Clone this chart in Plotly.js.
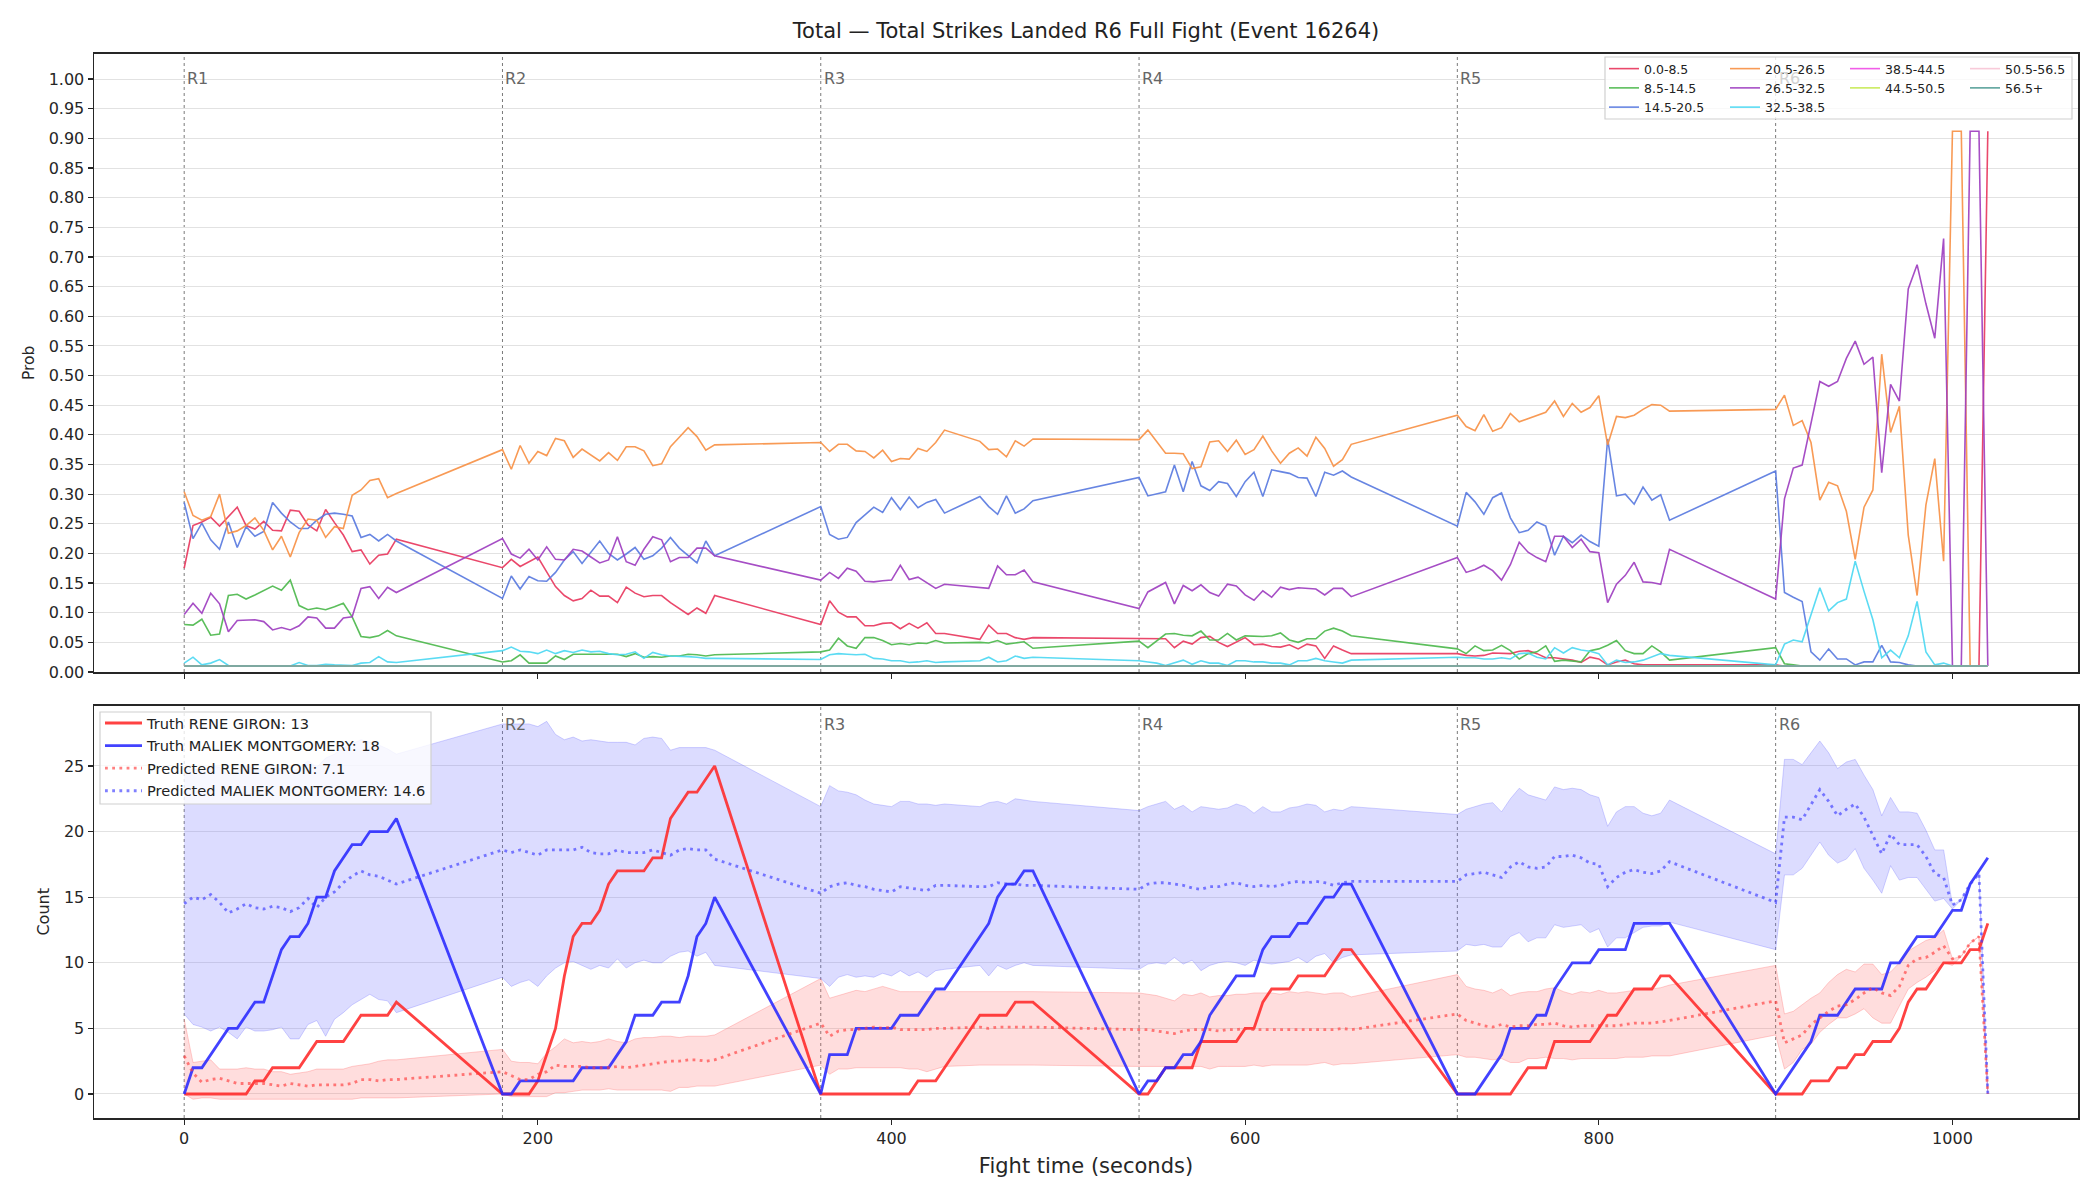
<!DOCTYPE html>
<html><head><meta charset="utf-8">
<script src="https://cdn.plot.ly/plotly-3.0.1.min.js"></script>
<style>html,body{margin:0;padding:0;background:#fff}#chart{width:2100px;height:1200px}</style>
</head><body><div id="chart"></div>
<script>
// ---------- data ----------
const TITLE = 'Total \u2014 Total Strikes Landed R6 Full Fight (Event 16264)';
const TIME = [0,5,10,15,20,25,30,35,40,45,50,55,60,65,70,75,80,85,90,95,100,105,110,115,120,
180,185,190,195,200,205,210,215,220,225,230,235,240,245,250,255,260,265,270,275,280,285,290,295,300,
360,365,370,375,380,385,390,395,400,405,410,415,420,425,430,450,455,460,465,470,475,480,
540,545,550,555,560,565,570,575,580,585,590,595,600,605,610,615,620,625,630,635,640,645,650,655,660,
720,725,730,735,740,745,750,755,760,765,770,775,780,785,790,795,800,805,810,815,820,825,830,835,840,
900,905,910,915,920,925,930,935,940,945,950,955,960,965,970,975,980,985,990,995,1000,1005,1010,1015,1020];

const BIN_LABELS = ['0.0-8.5','8.5-14.5','14.5-20.5','20.5-26.5','26.5-32.5','32.5-38.5','38.5-44.5','44.5-50.5','50.5-56.5','56.5+'];

const P_0_8 = [0.175,0.247,0.253,0.261,0.246,0.262,0.278,0.247,0.241,0.254,0.239,0.238,0.273,0.271,0.248,0.238,0.274,0.252,0.231,0.203,0.206,0.182,0.197,0.199,0.224,
0.176,0.190,0.178,0.186,0.194,0.169,0.144,0.129,0.120,0.124,0.138,0.128,0.128,0.117,0.143,0.133,0.127,0.129,0.129,0.117,0.107,0.097,0.108,0.099,0.129,
0.080,0.120,0.101,0.093,0.093,0.078,0.078,0.082,0.083,0.073,0.082,0.074,0.083,0.065,0.065,0.055,0.079,0.065,0.065,0.058,0.055,0.058,
0.057,0.056,0.056,0.056,0.041,0.052,0.047,0.058,0.060,0.050,0.043,0.050,0.058,0.046,0.047,0.043,0.042,0.046,0.039,0.047,0.044,0.023,0.044,0.037,0.031,
0.031,0.028,0.027,0.028,0.032,0.031,0.031,0.035,0.036,0.031,0.024,0.024,0.022,0.020,0.016,0.025,0.022,0.012,0.017,0.020,0.014,0.012,0.012,0.012,0.012,
0.012,0.010,0.010,0.010,0.010,0.010,0.010,0.010,0.010,0.010,0.010,0.010,0.010,0.010,0.010,0.010,0.010,0.010,0.010,0.010,0.010,0.010,0.010,0.010,0.912];

const P_8_14 = [0.080,0.079,0.089,0.062,0.064,0.129,0.131,0.123,0.130,0.137,0.145,0.138,0.155,0.112,0.105,0.108,0.105,0.110,0.116,0.093,0.060,0.058,0.061,0.070,0.061,
0.017,0.019,0.029,0.015,0.015,0.015,0.027,0.021,0.030,0.030,0.030,0.031,0.030,0.030,0.026,0.031,0.025,0.026,0.025,0.027,0.027,0.030,0.029,0.027,0.029,
0.034,0.037,0.057,0.044,0.040,0.058,0.058,0.053,0.046,0.048,0.046,0.049,0.048,0.053,0.049,0.050,0.049,0.053,0.047,0.049,0.051,0.040,
0.052,0.041,0.053,0.064,0.065,0.062,0.061,0.069,0.054,0.054,0.065,0.054,0.061,0.060,0.060,0.061,0.066,0.054,0.050,0.056,0.056,0.069,0.074,0.069,0.061,
0.039,0.031,0.044,0.036,0.037,0.045,0.036,0.022,0.031,0.034,0.044,0.018,0.020,0.018,0.017,0.036,0.039,0.045,0.053,0.036,0.031,0.031,0.044,0.034,0.020,
0.041,0.014,0.012,0.010,0.010,0.010,0.010,0.010,0.010,0.010,0.010,0.010,0.010,0.010,0.010,0.010,0.010,0.010,0.010,0.010,0.010,0.010,0.010,0.010,0.010];

const P_14_20 = [0.286,0.225,0.251,0.223,0.207,0.253,0.210,0.245,0.229,0.237,0.286,0.268,0.253,0.242,0.242,0.256,0.266,0.268,0.266,0.263,0.227,0.232,0.221,0.232,0.221,
0.124,0.162,0.140,0.161,0.154,0.153,0.168,0.189,0.203,0.183,0.203,0.221,0.200,0.189,0.199,0.210,0.190,0.196,0.209,0.227,0.209,0.196,0.184,0.221,0.196,
0.279,0.232,0.224,0.227,0.252,0.265,0.278,0.269,0.294,0.274,0.295,0.277,0.286,0.291,0.268,0.296,0.279,0.266,0.297,0.268,0.275,0.289,
0.328,0.297,0.301,0.304,0.349,0.304,0.355,0.314,0.306,0.321,0.318,0.296,0.321,0.337,0.296,0.341,0.338,0.335,0.328,0.327,0.296,0.337,0.332,0.339,0.329,
0.246,0.303,0.287,0.266,0.294,0.302,0.260,0.235,0.239,0.253,0.246,0.197,0.229,0.218,0.231,0.220,0.212,0.393,0.297,0.300,0.283,0.312,0.290,0.299,0.256,
0.339,0.134,0.126,0.119,0.034,0.020,0.039,0.022,0.022,0.012,0.017,0.017,0.045,0.017,0.016,0.012,0.010,0.010,0.010,0.010,0.010,0.010,0.010,0.010,0.010];

const P_20_26 = [0.304,0.264,0.256,0.262,0.300,0.234,0.238,0.247,0.260,0.239,0.206,0.229,0.194,0.235,0.258,0.256,0.227,0.245,0.242,0.298,0.307,0.323,0.326,0.294,0.301,
0.375,0.342,0.382,0.352,0.372,0.365,0.394,0.390,0.362,0.376,0.366,0.356,0.370,0.357,0.380,0.380,0.373,0.348,0.351,0.380,0.396,0.412,0.397,0.374,0.383,
0.387,0.372,0.384,0.384,0.373,0.372,0.361,0.374,0.355,0.360,0.359,0.377,0.372,0.387,0.408,0.389,0.375,0.376,0.363,0.390,0.381,0.393,
0.392,0.408,0.388,0.369,0.369,0.368,0.343,0.346,0.388,0.390,0.372,0.391,0.367,0.375,0.398,0.373,0.352,0.369,0.378,0.364,0.396,0.377,0.347,0.358,0.384,
0.433,0.414,0.407,0.434,0.406,0.412,0.436,0.422,0.427,0.433,0.438,0.457,0.431,0.453,0.438,0.446,0.466,0.383,0.431,0.429,0.433,0.443,0.451,0.450,0.440,
0.443,0.467,0.416,0.424,0.387,0.290,0.320,0.314,0.271,0.190,0.278,0.307,0.536,0.404,0.448,0.231,0.129,0.282,0.360,0.187,0.912,0.912,0.010,0.010,0.010];

const P_26_32 = [0.097,0.116,0.099,0.133,0.115,0.068,0.087,0.088,0.088,0.085,0.071,0.075,0.071,0.078,0.093,0.091,0.074,0.074,0.091,0.093,0.141,0.144,0.124,0.143,0.134,
0.225,0.199,0.192,0.207,0.189,0.211,0.190,0.189,0.207,0.204,0.194,0.184,0.189,0.228,0.186,0.180,0.207,0.228,0.223,0.186,0.193,0.193,0.209,0.209,0.196,
0.155,0.168,0.158,0.175,0.170,0.153,0.152,0.154,0.155,0.180,0.156,0.160,0.151,0.141,0.148,0.142,0.141,0.179,0.164,0.164,0.172,0.152,
0.107,0.135,0.143,0.151,0.115,0.146,0.137,0.147,0.134,0.128,0.148,0.145,0.130,0.121,0.137,0.126,0.143,0.139,0.142,0.141,0.140,0.130,0.141,0.141,0.127,
0.193,0.168,0.173,0.180,0.171,0.155,0.181,0.219,0.202,0.193,0.186,0.229,0.229,0.210,0.224,0.203,0.201,0.117,0.148,0.163,0.185,0.152,0.151,0.148,0.207,
0.123,0.292,0.344,0.349,0.421,0.490,0.482,0.490,0.529,0.558,0.519,0.531,0.336,0.485,0.457,0.646,0.687,0.621,0.563,0.731,0.010,0.010,0.912,0.912,0.010];

const P_32_38 = [0.015,0.025,0.012,0.015,0.021,0.011,0.010,0.010,0.010,0.010,0.010,0.010,0.010,0.016,0.011,0.011,0.013,0.012,0.011,0.011,0.015,0.016,0.026,0.017,0.016,
0.036,0.042,0.035,0.034,0.031,0.037,0.031,0.036,0.033,0.037,0.034,0.035,0.031,0.029,0.030,0.034,0.023,0.033,0.029,0.027,0.027,0.026,0.025,0.023,0.023,
0.021,0.029,0.031,0.030,0.029,0.030,0.023,0.022,0.019,0.019,0.016,0.017,0.019,0.016,0.017,0.019,0.025,0.017,0.019,0.027,0.023,0.025,
0.019,0.017,0.015,0.011,0.016,0.020,0.013,0.019,0.015,0.015,0.011,0.019,0.019,0.017,0.017,0.015,0.015,0.012,0.019,0.019,0.023,0.019,0.017,0.015,0.020,
0.025,0.024,0.024,0.022,0.022,0.024,0.022,0.031,0.032,0.025,0.022,0.041,0.032,0.041,0.037,0.035,0.031,0.012,0.020,0.016,0.017,0.020,0.026,0.031,0.028,
0.012,0.047,0.054,0.051,0.096,0.142,0.103,0.117,0.123,0.187,0.136,0.088,0.024,0.037,0.024,0.061,0.119,0.034,0.012,0.015,0.010,0.010,0.010,0.010,0.010];

const P_38_44 = [0.010,0.010,0.010,0.010,0.010,0.010,0.010,0.010,0.010,0.010,0.010,0.010,0.010,0.010,0.010,0.010,0.010,0.010,0.010,0.010,0.010,0.010,0.010,0.010,0.010,
0.010,0.010,0.010,0.010,0.010,0.010,0.010,0.010,0.010,0.010,0.010,0.010,0.010,0.010,0.010,0.010,0.010,0.010,0.010,0.010,0.010,0.010,0.010,0.010,0.010,
0.010,0.010,0.010,0.010,0.010,0.010,0.010,0.010,0.010,0.010,0.010,0.010,0.010,0.010,0.010,0.010,0.010,0.010,0.010,0.010,0.010,0.010,
0.010,0.010,0.010,0.010,0.010,0.010,0.010,0.010,0.010,0.010,0.010,0.010,0.010,0.010,0.010,0.010,0.010,0.010,0.010,0.010,0.010,0.010,0.010,0.010,0.010,
0.010,0.010,0.010,0.010,0.010,0.010,0.010,0.010,0.010,0.010,0.010,0.010,0.010,0.010,0.010,0.010,0.010,0.010,0.010,0.010,0.010,0.010,0.010,0.010,0.010,
0.010,0.010,0.010,0.010,0.010,0.010,0.010,0.010,0.010,0.010,0.010,0.010,0.010,0.010,0.010,0.010,0.010,0.010,0.010,0.010,0.010,0.010,0.010,0.010,0.010];
const P_44_50 = P_38_44.slice();
const P_50_56 = P_38_44.slice();
const P_56_UP = P_38_44.slice();

const BIN_SERIES = [P_0_8, P_8_14, P_14_20, P_20_26, P_26_32, P_32_38, P_38_44, P_44_50, P_50_56, P_56_UP];

// bottom panel
const FIGHTER_RED = 'RENE GIRON';
const FIGHTER_BLUE = 'MALIEK MONTGOMERY';
const FINAL_TRUTH_RED = 13, FINAL_TRUTH_BLUE = 18, FINAL_PRED_RED = 7.1, FINAL_PRED_BLUE = 14.6;

const TRUTH_RED = [0,0,0,0,0,0,0,0,1,1,2,2,2,2,3,4,4,4,4,5,6,6,6,6,7,
0,0,0,0,1,3,5,9,12,13,13,14,16,17,17,17,17,18,18,21,22,23,23,24,25,
0,0,0,0,0,0,0,0,0,0,0,1,1,1,2,6,6,6,6,7,7,7,
0,0,1,2,2,2,2,4,4,4,4,4,5,5,7,8,8,8,9,9,9,9,10,11,11,
0,0,0,0,0,0,0,1,2,2,2,4,4,4,4,4,5,6,6,7,8,8,8,9,9,
0,0,0,0,1,1,1,2,2,3,3,4,4,4,5,7,8,8,9,10,10,10,11,11,13];

const TRUTH_BLUE = [0,2,2,3,4,5,5,6,7,7,9,11,12,12,13,15,15,17,18,19,19,20,20,20,21,
0,0,1,1,1,1,1,1,1,2,2,2,2,3,4,6,6,6,7,7,7,9,12,13,15,
0,3,3,3,5,5,5,5,5,6,6,6,7,8,8,12,13,15,16,16,17,17,
0,1,1,2,2,3,3,4,6,7,8,9,9,9,11,12,12,12,13,13,14,15,15,16,16,
0,0,0,1,2,3,5,5,5,6,6,8,9,10,10,10,11,11,11,11,13,13,13,13,13,
0,1,2,3,4,6,6,6,7,8,8,8,8,10,10,11,12,12,12,13,14,14,16,17,18];

const PRED_RED = [2.9,1.6,0.9,1.1,1.2,1.0,0.8,0.8,0.8,0.8,0.7,0.6,0.8,0.7,0.6,0.7,0.7,0.7,0.7,0.8,1.1,1.1,1.0,1.1,1.1,
1.7,1.4,1.1,1.1,1.5,1.7,2.2,2.1,2.1,2.1,2.0,2.0,2.0,2.1,2.0,2.1,2.2,2.3,2.4,2.5,2.5,2.6,2.6,2.5,2.6,
5.4,4.4,4.8,4.9,4.9,5.0,5.1,5.0,5.1,4.9,4.9,4.9,4.9,5.0,5.0,5.1,5.0,5.1,5.1,5.1,5.1,5.1,
4.9,4.9,4.8,4.7,4.6,4.8,4.9,4.9,4.9,4.8,4.9,4.9,5.0,4.9,4.9,4.9,4.9,4.9,4.9,4.9,4.9,4.9,4.9,5.0,4.9,
6.1,5.6,5.4,5.2,5.1,5.3,5.1,5.2,5.2,5.3,5.3,5.4,5.2,5.1,5.2,5.2,5.2,5.2,5.2,5.3,5.4,5.4,5.4,5.5,5.6,
7.1,3.9,4.2,4.5,5.3,5.8,6.3,6.7,6.8,7.2,7.7,8.1,7.7,7.5,8.2,9.8,10.3,10.4,10.8,11.3,10.3,10.5,11.5,12.0,0.0];

const PRED_BLUE = [14.5,15.0,14.8,15.2,14.6,13.8,14.1,14.5,14.2,14.1,14.3,14.2,13.9,14.2,14.9,14.2,15.0,15.4,16.1,16.6,17.0,16.7,16.6,16.3,16.0,
18.6,18.4,18.6,18.4,18.2,18.6,18.6,18.6,18.6,18.8,18.4,18.3,18.3,18.6,18.4,18.4,18.4,18.6,18.4,18.2,18.6,18.7,18.6,18.6,17.9,
15.3,15.8,16.0,16.1,15.9,15.8,15.6,15.5,15.4,15.8,15.7,15.6,15.5,15.9,15.9,15.8,15.8,16.1,16.0,16.0,15.9,15.9,
15.6,16.0,16.1,16.1,16.0,15.9,15.7,15.6,15.8,15.8,16.0,16.1,15.9,15.8,15.9,15.8,15.9,16.1,16.2,16.1,16.2,16.1,15.9,16.1,16.2,
16.2,16.7,16.8,16.9,16.7,16.5,17.3,17.7,17.3,17.2,17.3,18.1,18.1,18.2,18.0,17.6,17.5,15.8,16.5,16.9,17.1,16.9,16.8,17.0,17.7,
14.6,21.1,21.1,20.9,22.1,23.2,22.3,21.2,21.7,22.1,21.1,19.7,18.3,19.8,19.0,19.0,19.0,18.1,16.8,16.5,14.4,14.8,16.0,16.8,0.0];

const BAND_BLUE_UP = [24.5,24.8,24.6,25.0,24.9,24.3,24.6,25.0,24.8,24.7,24.9,24.8,24.5,24.8,25.4,24.9,25.6,25.9,26.4,26.7,27.0,26.8,26.6,26.3,25.9,
28.2,28.2,28.2,28.2,28.0,28.4,27.4,27.0,27.2,26.9,27.0,26.9,26.8,26.8,26.8,26.6,27.1,27.2,27.1,26.2,26.4,26.4,26.4,26.4,26.2,
21.9,23.5,23.1,23.0,22.8,22.4,22.1,22.0,21.9,22.3,22.3,22.1,22.1,22.0,22.1,21.9,22.2,22.3,22.1,22.5,22.4,22.3,
21.6,21.9,22.1,22.3,21.7,22.0,21.5,21.9,21.8,21.7,21.8,22.1,21.9,21.4,21.9,21.5,21.5,21.8,21.9,22.1,22.0,21.5,21.7,21.6,21.9,
21.3,21.7,21.9,22.1,22.2,21.5,22.5,23.3,22.8,22.6,22.4,23.4,23.2,23.3,23.2,22.8,22.6,20.4,21.5,21.9,21.9,21.4,21.2,21.4,22.4,
18.3,25.5,25.5,25.1,26.0,26.9,26.0,24.8,25.3,25.5,24.3,23.2,21.2,22.6,21.5,21.5,21.4,20.1,18.6,18.6,14.4,14.8,16.0,16.8,0.0];

const BAND_BLUE_LO = [6.1,5.3,5.1,4.8,5.1,4.7,4.2,5.1,4.8,4.8,4.9,5.1,4.2,4.2,5.3,5.6,4.4,5.7,6.2,6.8,7.2,7.6,7.2,7.1,6.2,
8.9,8.2,8.5,8.7,8.2,9.0,9.6,10.0,10.1,9.8,9.5,9.8,9.6,10.3,9.6,10.0,10.2,10.0,10.0,10.5,10.8,10.9,10.5,10.8,9.8,
8.8,8.2,8.9,9.1,8.9,9.0,8.9,9.2,9.0,9.4,9.0,9.3,8.9,9.4,9.5,9.8,9.0,9.8,9.5,9.8,10.0,9.8,
9.5,9.9,10.0,9.9,10.4,9.9,10.2,9.4,9.8,10.0,10.1,10.0,9.8,10.2,10.0,9.9,10.0,10.1,10.4,10.0,10.5,10.7,10.0,10.4,10.6,
10.9,11.4,11.3,11.4,11.2,11.2,12.0,12.3,11.6,11.9,11.9,12.9,12.7,12.8,12.9,12.3,12.6,11.2,11.9,11.9,12.3,12.7,12.8,12.8,13.1,
11.0,16.7,16.7,17.2,18.2,19.2,18.2,17.6,17.9,18.7,17.2,16.3,15.3,17.4,16.3,16.5,16.5,15.6,14.7,14.9,14.1,14.8,16.0,16.8,0.0];

const BAND_RED_UP = [5.7,2.4,2.5,2.6,1.9,1.9,1.9,2.0,1.9,1.9,1.7,1.7,1.5,1.6,1.7,1.9,1.9,1.9,1.9,2.1,2.2,2.3,2.5,2.6,2.6,
3.4,2.5,2.4,2.4,2.3,3.1,3.6,4.2,3.9,4.0,3.9,4.0,4.2,4.0,3.9,4.2,4.3,4.3,4.4,4.4,4.3,4.4,4.4,4.4,4.5,
8.8,7.3,7.5,7.7,7.9,7.8,8.0,8.2,8.0,7.8,7.8,7.8,7.8,7.8,7.8,7.8,7.8,7.8,7.8,7.8,7.8,7.8,
7.7,7.6,7.5,7.3,7.1,7.6,7.5,7.7,7.4,7.5,7.5,7.6,7.6,7.7,7.7,7.7,7.6,7.8,7.7,7.8,7.7,7.6,7.7,7.7,7.4,
9.1,8.2,8.0,7.9,7.7,8.0,7.5,7.7,7.8,7.8,8.0,8.1,7.8,7.6,7.8,7.7,7.9,7.7,7.7,7.8,7.9,8.0,8.0,8.1,8.3,
9.8,6.1,6.3,6.8,7.3,7.7,8.5,9.1,9.5,9.3,9.9,9.9,9.1,9.3,10.0,10.9,11.3,11.7,11.9,12.5,10.3,10.5,11.5,12.0,0.0];

const BAND_RED_LO = [0.0,-0.4,-0.3,-0.3,-0.4,-0.4,-0.4,-0.4,-0.4,-0.4,-0.4,-0.4,-0.4,-0.4,-0.4,-0.4,-0.4,-0.4,-0.4,-0.4,-0.3,-0.3,-0.3,-0.3,-0.3,
0.0,-0.2,-0.2,-0.2,-0.2,-0.2,0.1,0.1,0.2,0.3,0.3,0.3,0.4,0.3,0.3,0.3,0.3,0.3,0.3,0.2,0.5,0.5,0.6,0.6,0.6,
2.2,1.5,1.9,1.9,2.0,2.0,2.0,2.0,2.0,2.0,1.9,1.9,1.7,1.9,2.1,2.2,2.2,2.2,2.2,2.2,2.2,2.2,
2.1,2.1,2.1,2.1,2.0,2.1,2.1,2.1,1.9,2.1,2.1,2.1,2.1,2.2,2.1,2.2,2.2,2.2,2.2,2.2,2.3,2.4,2.2,2.3,2.3,
3.0,2.8,2.8,2.7,2.6,2.7,2.4,2.4,2.7,2.7,2.8,2.7,2.7,2.6,2.7,2.7,2.7,2.7,2.7,2.8,2.8,2.8,2.9,2.9,2.9,
4.5,1.9,2.4,3.4,3.8,4.7,5.3,5.8,5.8,6.1,6.5,5.8,5.4,5.4,6.7,8.0,8.5,8.9,9.4,10.0,9.8,10.5,11.5,12.0,0.0];

const ROUND_STARTS = [0,180,360,540,720,900];
const ROUND_LABELS = ['R1','R2','R3','R4','R5','R6'];
const X_TICKS = [0,200,400,600,800,1000];
const PROB_TICKS = [0,0.05,0.1,0.15,0.2,0.25,0.3,0.35,0.4,0.45,0.5,0.55,0.6,0.65,0.7,0.75,0.8,0.85,0.9,0.95,1.0];
const COUNT_TICKS = [0,5,10,15,20,25];

// ---------- styles ----------
const BIN_COLORS = ['#e8385e','#4db84d','#5a7be0','#f79146','#9e3fc0','#4dd8f2','#f04fe6','#c5e84f','#f7c5d6','#4e9b94'];
const BIN_LEGENDS = ['legend','legend','legend','legend2','legend2','legend2','legend3','legend3','legend4','legend4'];
const AX = '#262626';

const traces = [];
BIN_SERIES.forEach((s, i) => {
  traces.push({x: TIME, y: s, type: 'scatter', mode: 'lines', name: BIN_LABELS[i],
    line: {color: BIN_COLORS[i], width: 1.6}, opacity: 0.92, xaxis: 'x', yaxis: 'y',
    legend: BIN_LEGENDS[i], hoverinfo: 'skip'});
});
function band(lo, up, line, fill) {
  traces.push({x: TIME, y: lo, type: 'scatter', mode: 'lines', line: {color: line, width: 1},
    showlegend: false, xaxis: 'x2', yaxis: 'y2', hoverinfo: 'skip'});
  traces.push({x: TIME, y: up, type: 'scatter', mode: 'lines', line: {color: line, width: 1},
    fill: 'tonexty', fillcolor: fill, showlegend: false, xaxis: 'x2', yaxis: 'y2', hoverinfo: 'skip'});
}
band(BAND_RED_LO, BAND_RED_UP, 'rgba(255,100,100,0.30)', 'rgba(255,100,100,0.22)');
band(BAND_BLUE_LO, BAND_BLUE_UP, 'rgba(110,110,255,0.30)', 'rgba(110,110,255,0.24)');
const bottomLines = [
  [TRUTH_RED, 'Truth ' + FIGHTER_RED + ': ' + FINAL_TRUTH_RED, 'rgba(255,40,40,0.88)', 'solid', 2.8, 'g1'],
  [TRUTH_BLUE, 'Truth ' + FIGHTER_BLUE + ': ' + FINAL_TRUTH_BLUE, 'rgba(40,40,255,0.88)', 'solid', 2.8, 'g2'],
  [PRED_RED, 'Predicted ' + FIGHTER_RED + ': ' + FINAL_PRED_RED, 'rgba(255,60,60,0.65)', '2.8px,4.4px', 2.8, 'g3'],
  [PRED_BLUE, 'Predicted ' + FIGHTER_BLUE + ': ' + FINAL_PRED_BLUE, 'rgba(60,60,255,0.65)', '2.8px,4.4px', 2.8, 'g4']
];
bottomLines.forEach(b => {
  traces.push({x: TIME, y: b[0], type: 'scatter', mode: 'lines', name: b[1],
    line: {color: b[2], width: b[4], dash: b[3]}, xaxis: 'x2', yaxis: 'y2',
    legend: 'legend5', legendgroup: b[5], hoverinfo: 'skip'});
});

const shapes = [];
ROUND_STARTS.forEach(r => {
  shapes.push({type: 'line', xref: 'x', yref: 'y domain', x0: r, x1: r, y0: 0, y1: 1,
    line: {color: '#7a7a7a', width: 1, dash: 'dot'}, layer: 'below'});
  shapes.push({type: 'line', xref: 'x2', yref: 'y2 domain', x0: r, x1: r, y0: 0, y1: 1,
    line: {color: '#7a7a7a', width: 1, dash: 'dot'}, layer: 'below'});
});
// legend frames
shapes.push({type: 'rect', xref: 'paper', yref: 'paper', x0: 1605/2100, x1: 2072/2100, y0: 1-119/1200, y1: 1-57/1200,
  fillcolor: 'rgba(255,255,255,0.8)', line: {color: '#d0d0d0', width: 1.2}, layer: 'above'});
shapes.push({type: 'rect', xref: 'paper', yref: 'paper', x0: 100/2100, x1: 431/2100, y0: 1-804/1200, y1: 1-712/1200,
  fillcolor: 'rgba(255,255,255,0.8)', line: {color: '#d0d0d0', width: 1.2}, layer: 'above'});

const annotations = [];
ROUND_STARTS.forEach((r, i) => {
  annotations.push({x: r, xref: 'x', y: 0.9605, yref: 'y domain', text: ROUND_LABELS[i], showarrow: false,
    xanchor: 'left', yanchor: 'middle', xshift: 1, font: {size: 16, color: i === 5 ? '#d2d2d2' : '#666666'}});
  if (i > 0) annotations.push({x: r, xref: 'x2', y: 0.954, yref: 'y2 domain', text: ROUND_LABELS[i], showarrow: false,
    xanchor: 'left', yanchor: 'middle', xshift: 1, font: {size: 16, color: '#666666'}});
});

function legendAt(xpx, ypx, size) {
  return {x: xpx/2100, y: 1 - ypx/1200, xanchor: 'left', yanchor: 'top', orientation: 'v',
    bgcolor: 'rgba(0,0,0,0)', borderwidth: 0, font: {size: size, color: '#222'}, traceorder: 'normal'};
}
const xBase = {range: [-51, 1071], domain: [94/2100, 2078/2100], tickvals: X_TICKS, ticks: 'outside',
  ticklen: 5, tickwidth: 1.2, tickcolor: AX, showline: true, mirror: true, linecolor: AX, linewidth: 1.5,
  showgrid: false, zeroline: false, tickfont: {size: 16, color: AX}};
const yBase = {ticks: 'outside', ticklen: 5, tickwidth: 1.2, tickcolor: AX, showline: true, mirror: true,
  linecolor: AX, linewidth: 1.5, showgrid: true, gridcolor: '#e2e2e2', gridwidth: 1, zeroline: false,
  tickfont: {size: 16, color: AX}};

const layout = {
  width: 2100, height: 1200, margin: {l: 0, r: 0, t: 0, b: 0},
  paper_bgcolor: '#ffffff', plot_bgcolor: '#ffffff',
  font: {family: 'DejaVu Sans, sans-serif', color: AX, size: 16},
  title: {text: TITLE, x: 1086/2100, xanchor: 'center', y: 1 - 31/1200, yanchor: 'middle',
    font: {size: 21, color: '#222'}},
  xaxis: Object.assign({}, xBase, {anchor: 'y', showticklabels: false}),
  yaxis: Object.assign({}, yBase, {anchor: 'x', domain: [1 - 672/1200, 1 - 53.6/1200], range: [0, 1.043],
    tickvals: PROB_TICKS, tickformat: '.2f', title: {text: 'Prob', font: {size: 15.5}, standoff: 10}}),
  xaxis2: Object.assign({}, xBase, {anchor: 'y2', showticklabels: true,
    title: {text: 'Fight time (seconds)', font: {size: 21}, standoff: 11}}),
  yaxis2: Object.assign({}, yBase, {anchor: 'x2', domain: [1 - 1118/1200, 1 - 705.6/1200], range: [-1.83, 29.6],
    tickvals: COUNT_TICKS, title: {text: 'Count', font: {size: 16}, standoff: 10}}),
  legend: legendAt(1604, 54, 12.5),
  legend2: legendAt(1725, 54, 12.5),
  legend3: legendAt(1845, 54, 12.5),
  legend4: legendAt(1965, 54, 12.5),
  legend5: Object.assign(legendAt(100, 707, 14.6), {traceorder: 'grouped', tracegroupgap: 0.6, itemwidth: 37}),
  shapes: shapes, annotations: annotations, showlegend: true
};

Plotly.newPlot('chart', traces, layout, {staticPlot: true, displayModeBar: false});
</script></body></html>
